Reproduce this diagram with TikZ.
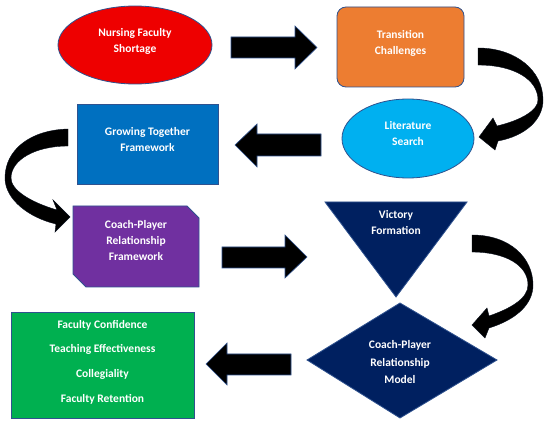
\documentclass[tikz,border=0pt]{standalone}
\usepackage{fontspec}
\setmainfont{Carlito}
\usetikzlibrary{shapes.geometric}
\definecolor{edgec}{RGB}{47,82,143}
\definecolor{cred}{RGB}{238,0,0}
\definecolor{corange}{RGB}{237,125,49}
\definecolor{clblue}{RGB}{0,176,240}
\definecolor{cblue}{RGB}{0,112,192}
\definecolor{cpurple}{RGB}{112,48,160}
\definecolor{cnavy}{RGB}{0,32,96}
\definecolor{cgreen}{RGB}{0,176,80}
\tikzset{
  shapebox/.style={draw=edgec, line width=0.8pt},
  lbl/.style={text=white, font=\fontsize{11.5}{16}\selectfont\bfseries, align=center, inner sep=0pt},
  blockarrow/.style={fill=black, draw=edgec, line width=0.6pt, line join=miter},
  curvedarrow/.style={fill=black, draw=black!80!edgec, line width=0.4pt}
}
\begin{document}
\begin{tikzpicture}[x=1pt,y=-1pt]
\useasboundingbox (0,0) rectangle (550,425);
\fill[white] (0,0) rectangle (550,425);

% shapes
\node[shapebox, ellipse, fill=cred, minimum width=154pt, minimum height=78pt, inner sep=0pt] (nfs) at (135,45) {};
\node[shapebox, rectangle, rounded corners=9pt, fill=corange, minimum width=127pt, minimum height=80pt, inner sep=0pt] (tc) at (400.5,47) {};
\node[shapebox, ellipse, fill=clblue, minimum width=132pt, minimum height=79pt, inner sep=0pt] (ls) at (408,138.5) {};
\node[shapebox, rectangle, fill=cblue, minimum width=141pt, minimum height=80pt, inner sep=0pt] (gt) at (147.5,144) {};
\node[shapebox, rectangle, fill=cgreen, minimum width=183pt, minimum height=106pt, inner sep=0pt] (fc) at (102.5,365) {};
\filldraw[shapebox, fill=cpurple] (73,206) -- (187,206) -- (199,218) -- (199,287) -- (86,287) -- (73,274) -- cycle;
\coordinate (cp) at (136,246.5);
\filldraw[shapebox, fill=cnavy] (325,202) -- (467,202) -- (396,297) -- cycle;
\coordinate (vf) at (396,240);
\filldraw[shapebox, fill=cnavy] (400,303) -- (497,360) -- (400,418) -- (307,360) -- cycle;
\coordinate (cpm) at (400,360);

% labels
\node[lbl] (t1) at (135,41) {Nursing Faculty\\Shortage};
\node[lbl] (t2) at (400.5,43) {Transition\\Challenges};
\node[lbl] (t3) at (408,134) {Literature\\Search};
\node[lbl] (t4) at (147.5,139.5) {Growing Together\\Framework};
\node[lbl] (t5) at (136,241) {Coach-Player\\Relationship\\Framework};
\node[lbl] (t6) at (396,223) {Victory\\Formation};
\node[lbl, font=\fontsize{11.5}{17.5}\selectfont\bfseries] (t7) at (400,362.5) {Coach-Player\\Relationship\\Model};
\node[lbl, font=\fontsize{11.5}{24.7}\selectfont\bfseries] (t8) at (102.5,362) {Faculty Confidence\\Teaching Effectiveness\\Collegiality\\Faculty Retention};

% block arrows
\filldraw[blockarrow] (231,37) -- (295,37) -- (295,26) -- (317,47.5) -- (295,69) -- (295,58) -- (231,58) -- cycle;
\filldraw[blockarrow] (321,134) -- (257,134) -- (257,124) -- (235,145) -- (257,167) -- (257,156) -- (321,156) -- cycle;
\filldraw[blockarrow] (222,247) -- (285,247) -- (285,235) -- (307,257) -- (285,278) -- (285,268) -- (222,268) -- cycle;
\filldraw[blockarrow] (291,354) -- (227,354) -- (227,343) -- (206,364) -- (227,385) -- (227,375) -- (291,375) -- cycle;

% curved arrows
\filldraw[curvedarrow] (478,48) .. controls (515,48) and (543,70) .. (543,100)
  .. controls (543,120) and (525,136) .. (498,141) -- (495,150) -- (479,137) -- (493,118) -- (497,126)
  .. controls (522,120) and (538,110) .. (538,100) .. controls (538,80) and (515,65) .. (478,65) -- cycle;
\filldraw[curvedarrow] (68,129) .. controls (30,130) and (5,150) .. (5,178)
  .. controls (5,200) and (30,218) .. (56,224) -- (55,232) -- (70,217) -- (53,200) -- (57,210)
  .. controls (30,202) and (11,190) .. (11,178) .. controls (11,160) and (35,146) .. (68,146) -- cycle;
\filldraw[curvedarrow] (472,235) .. controls (510,235) and (533,258) .. (533,285)
  .. controls (533,305) and (515,320) .. (489,328) -- (485,338) -- (472,325) -- (487,308) -- (489,316)
  .. controls (512,308) and (528,298) .. (528,285) .. controls (528,265) and (505,252) .. (472,252) -- cycle;
\end{tikzpicture}
\end{document}
